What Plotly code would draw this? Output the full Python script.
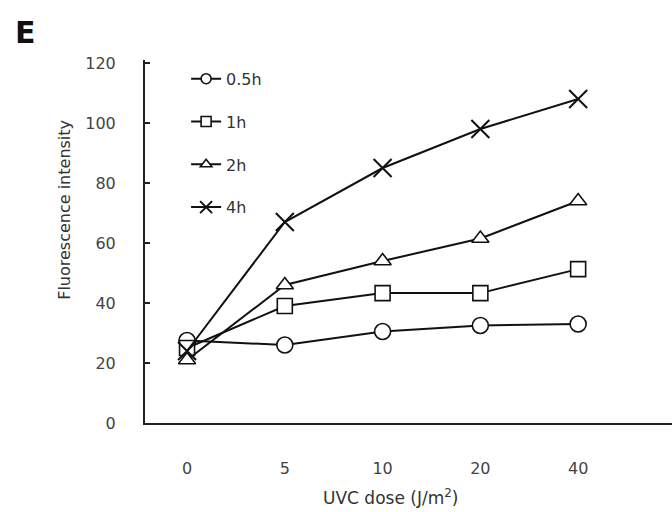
import plotly.graph_objects as go

doses = ["0", "5", "10", "20", "40"]
series_names = ["0.5h", "1h", "2h", "4h"]
v_05h = [27.5, 26, 30.5, 32.5, 33]
v_1h = [25, 39, 43.3, 43.3, 51.3]
v_2h = [21, 46, 54, 61.5, 74]
v_4h = [24, 67, 85, 98, 108]
y_ticks = [0, 20, 40, 60, 80, 100, 120]

symbols = ["circle", "square", "triangle-up", "x-thin-open"]
sizes = [16, 15, 15, 18]
legend_sizes = [10, 10, 10, 12]
values = [v_05h, v_1h, v_2h, v_4h]


def marker_style(sym, sz):
    open_sym = "open" in sym
    return dict(symbol=sym, size=sz, color="#111" if open_sym else "white",
                line=dict(color="#111", width=2 if open_sym else 1.6))


fig = go.Figure()
for name, vals, sym, sz in zip(series_names, values, symbols, sizes):
    fig.add_trace(go.Scatter(
        x=doses, y=vals, name=name, mode="lines+markers",
        legendgroup=name, showlegend=False,
        line=dict(color="#111", width=2),
        marker=marker_style(sym, sz),
    ))
# legend-only entries with smaller symbols (as in the reference legend)
for name, sym, sz in zip(series_names, symbols, legend_sizes):
    fig.add_trace(go.Scatter(
        x=[None], y=[None], name=name, mode="lines+markers",
        legendgroup=name, showlegend=True,
        line=dict(color="#111", width=2),
        marker=marker_style(sym, sz),
    ))

font = "DejaVu Sans, Verdana, sans-serif"
fig.update_layout(
    width=672, height=512,
    margin=dict(l=145, r=0, t=60, b=89),
    paper_bgcolor="white", plot_bgcolor="white",
    font=dict(family=font, size=16, color="#333"),
    showlegend=True,
    legend=dict(x=0.078, y=0.995, xanchor="left", yanchor="top",
                bgcolor="rgba(0,0,0,0)", tracegroupgap=19,
                font=dict(size=16, color="#333")),
    xaxis=dict(type="category", range=[-0.43, 4.96], showgrid=False,
               showline=True, linecolor="#222", linewidth=2, ticks="",
               ticklabelstandoff=30, tickfont=dict(size=16, color="#444"),
               zeroline=False),
    yaxis=dict(range=[0, 121], tickvals=y_ticks, showgrid=False,
               showline=True, linecolor="#222", linewidth=2, ticks="inside",
               ticklen=5, tickwidth=2, tickcolor="#222",
               ticklabelstandoff=24, tickfont=dict(size=16, color="#444"),
               zeroline=False),
    annotations=[
        dict(text="Fluorescence intensity", xref="paper", yref="paper",
             x=-0.152, y=0.587, textangle=-90, showarrow=False,
             xanchor="center", yanchor="middle",
             font=dict(size=16, color="#333")),
        dict(text="UVC dose (J/m<sup>2</sup>)", xref="paper", yref="paper",
             x=0.465, y=-0.204, showarrow=False, yanchor="middle",
             font=dict(size=17, color="#333")),
        dict(text="<b>E</b>", xref="paper", yref="paper",
             x=-0.25, y=1.077, showarrow=False, xanchor="left", yanchor="middle",
             font=dict(size=30, color="#111")),
    ],
)
fig.write_html("out.html")
